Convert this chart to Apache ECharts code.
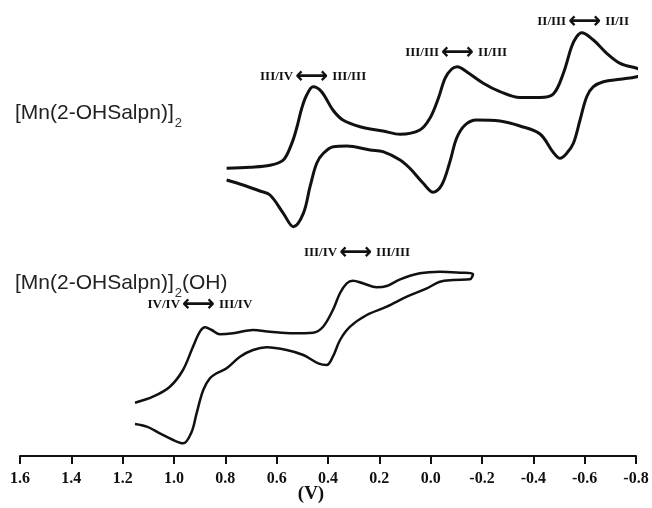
<!DOCTYPE html>
<html>
<head>
<meta charset="utf-8">
<script src="https://cdn.jsdelivr.net/npm/echarts@6/dist/echarts.min.js"></script>
<style>html,body{margin:0;padding:0;background:#fff;}#c{width:652px;height:508px;}</style>
</head>
<body>
<div id="c"></div>
<script>
// Potential axis ticks (V)
const xTicks = [1.6, 1.4, 1.2, 1.0, 0.8, 0.6, 0.4, 0.2, 0.0, -0.2, -0.4, -0.6, -0.8];

// CV of [Mn(2-OHSalpn)]2 : potential (V) and current (arb. units), in scan order
const cv1Potential = [
  0.795, 0.704, 0.626, 0.574, 0.541, 0.522, 0.502, 0.483, 0.458, 0.425, 0.381, 0.342, 0.275, 0.186,
  0.119, 0.042, 0.003, -0.030, -0.056, -0.082, -0.104, -0.140, -0.205, -0.270, -0.348, -0.426,
  -0.478, -0.517, -0.549, -0.569, -0.588, -0.634, -0.686, -0.738, -0.803, -0.848,
  -0.803, -0.738, -0.673, -0.634, -0.608, -0.582, -0.556, -0.530, -0.504, -0.478, -0.426, -0.348,
  -0.270, -0.179, -0.134, -0.101, -0.075, -0.043, -0.010, 0.029, 0.081, 0.119, 0.186, 0.236,
  0.327, 0.379, 0.418, 0.444, 0.470, 0.496, 0.535, 0.574, 0.626, 0.665, 0.731, 0.795
];
const cv1Current = [
  287.7, 288.7, 290.7, 296, 312.7, 328, 348, 361, 369.3, 364.3, 346, 336, 329.3, 325,
  321.7, 326, 337.7, 357.7, 377.7, 387, 389.3, 384.3, 372.7, 364.3, 358.5, 358.5,
  362, 382.7, 409.3, 419.3, 423.3, 416, 402.7, 392.7, 387.7, 384.3,
  379.3, 376.7, 374.3, 369.3, 359.3, 336, 312.7, 302.7, 297.7, 303.5, 322, 330,
  335, 336, 331, 317.7, 294.3, 271, 263.7, 272.7, 287.7, 296, 304.3, 306,
  310, 309.3, 302.7, 292.7, 269.3, 242.7, 229.3, 242.7, 261, 265, 271, 276
];

// CV of [Mn(2-OHSalpn)]2(OH)
const cv2Potential = [
  1.152, 1.082, 1.016, 0.965, 0.926, 0.899, 0.879, 0.853, 0.821, 0.770, 0.692, 0.626, 0.536, 0.458,
  0.419, 0.381, 0.353, 0.327, 0.303, 0.264, 0.210, 0.171, 0.119, 0.042, -0.036, -0.114, -0.165,
  -0.153, -0.087, -0.036, 0.015, 0.093, 0.171, 0.249, 0.314, 0.353, 0.381, 0.405, 0.438, 0.496,
  0.561, 0.639, 0.692, 0.743, 0.795, 0.834, 0.860, 0.886, 0.912, 0.931, 0.964, 1.003, 1.055,
  1.106, 1.152
];
const cv2Current = [
  53.3, 59.3, 69.3, 86, 109.3, 124.3, 128.7, 126, 121.7, 122.7, 126, 124.3, 122.7, 123.3,
  129.3, 146, 163, 172.7, 175.3, 172.7, 168.7, 170, 176.7, 182.7, 184.3, 183.3, 182,
  176.7, 176, 174.3, 167.7, 159.3, 149.3, 141, 129.3, 116, 99.3, 91, 92.7, 101,
  106, 108.7, 106, 99.3, 87.7, 82.7, 77.7, 66, 42.7, 24.3, 12.7, 16, 22.7,
  29.3, 32
];

// Redox couple annotations
const cv1Couples = ['III/IV{a|⟷}III/III', 'III/III{a|⟷}II/III', 'II/III{a|⟷}II/II'];
const cv1CouplePos = [[0.458, 379], [-0.099, 403], [-0.594, 434]];
const cv2Couples = ['IV/IV{a|⟷}III/IV', 'III/IV{a|⟷}III/III'];
const cv2CouplePos = [[0.899, 151], [0.287, 203]];

const compoundNames = ['[Mn(2-OHSalpn)]{s|2}', '[Mn(2-OHSalpn)]{s|2}(OH)'];

const zip = (a, b) => a.map((v, i) => [v, b[i]]);

const labelStyle = {
  show: true,
  position: 'inside',
  formatter: '{b}',
  fontFamily: 'Liberation Serif',
  fontWeight: 'bold',
  fontSize: 13,
  color: '#111',
  rich: { a: { fontFamily: 'DejaVu Sans', fontWeight: 'bold', fontSize: 23, color: '#111', padding: [0, 4, 0, 2] } }
};
const mk = (names, pos) => ({
  symbol: 'circle', symbolSize: 0, silent: true,
  label: labelStyle,
  data: names.map((n, i) => ({ name: n, coord: pos[i] }))
});

const titleStyle = {
  fontFamily: 'Liberation Sans', fontWeight: 'normal', fontSize: 21, color: '#222',
  rich: { s: { fontFamily: 'Liberation Sans', fontSize: 13, color: '#333', verticalAlign: 'bottom', padding: [20, 0, 0, 1] } }
};

const chart = echarts.init(document.getElementById('c'), null, { renderer: 'canvas' });
chart.setOption({
  animation: false,
  backgroundColor: '#fff',
  title: [
    { text: compoundNames[0], left: 15, top: 97, padding: 0, textStyle: titleStyle },
    { text: compoundNames[1], left: 15, top: 267, padding: 0, textStyle: titleStyle }
  ],
  grid: { left: 20, right: 16, top: 0, bottom: 52, containLabel: false, outerBoundsMode: 'none' },
  xAxis: {
    type: 'value', inverse: true, min: -0.8, max: 1.6, interval: 0.2,
    name: '(V)', nameLocation: 'middle', nameGap: 29, nameMoveOverlap: false,
    nameTextStyle: { fontFamily: 'Liberation Serif', fontWeight: 'bold', fontSize: 19, color: '#111', padding: [0, 34, 0, 0] },
    axisLine: { show: true, lineStyle: { color: '#111', width: 2 } },
    axisTick: { show: true, inside: false, length: 8, lineStyle: { color: '#111', width: 2 } },
    axisLabel: {
      margin: 15, fontFamily: 'Liberation Serif', fontWeight: 'bold', fontSize: 16, color: '#111',
      customValues: xTicks,
      formatter: v => (Math.abs(v) < 1e-9 ? 0 : v).toFixed(1)
    },
    splitLine: { show: false }
  },
  yAxis: { type: 'value', min: 0, max: 456, show: false },
  series: [
    {
      type: 'line', data: zip(cv1Potential, cv1Current), smooth: 0.35, showSymbol: false, clip: false,
      lineStyle: { color: '#111', width: 3 }, markPoint: mk(cv1Couples, cv1CouplePos)
    },
    {
      type: 'line', data: zip(cv2Potential, cv2Current), smooth: 0.35, showSymbol: false, clip: false,
      lineStyle: { color: '#111', width: 2.5 }, markPoint: mk(cv2Couples, cv2CouplePos)
    }
  ]
});
</script>
</body>
</html>
